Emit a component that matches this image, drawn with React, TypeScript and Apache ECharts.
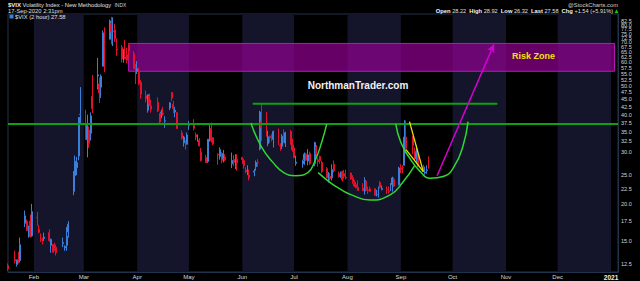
import React, { useEffect, useRef } from 'react';
import * as echarts from 'echarts';

// ---------- DATA ----------
const dates = [
  '2020-01-17', '2020-01-21', '2020-01-22', '2020-01-23', '2020-01-24', '2020-01-27', '2020-01-28', '2020-01-29', '2020-01-30', '2020-01-31',
  '2020-02-03', '2020-02-04', '2020-02-05', '2020-02-06', '2020-02-07', '2020-02-10', '2020-02-11', '2020-02-12', '2020-02-13', '2020-02-14', '2020-02-18', '2020-02-19', '2020-02-20', '2020-02-21', '2020-02-24', '2020-02-25', '2020-02-26', '2020-02-27', '2020-02-28',
  '2020-03-02', '2020-03-03', '2020-03-04', '2020-03-05', '2020-03-06', '2020-03-09', '2020-03-10', '2020-03-11', '2020-03-12', '2020-03-13', '2020-03-16', '2020-03-17', '2020-03-18', '2020-03-19', '2020-03-20', '2020-03-23', '2020-03-24', '2020-03-25', '2020-03-26', '2020-03-27', '2020-03-30', '2020-03-31',
  '2020-04-01', '2020-04-02', '2020-04-03', '2020-04-06', '2020-04-07', '2020-04-08', '2020-04-09', '2020-04-13', '2020-04-14', '2020-04-15', '2020-04-16', '2020-04-17', '2020-04-20', '2020-04-21', '2020-04-22', '2020-04-23', '2020-04-24', '2020-04-27', '2020-04-28', '2020-04-29', '2020-04-30',
  '2020-05-01', '2020-05-04', '2020-05-05', '2020-05-06', '2020-05-07', '2020-05-08', '2020-05-11', '2020-05-12', '2020-05-13', '2020-05-14', '2020-05-15', '2020-05-18', '2020-05-19', '2020-05-20', '2020-05-21', '2020-05-22', '2020-05-26', '2020-05-27', '2020-05-28', '2020-05-29',
  '2020-06-01', '2020-06-02', '2020-06-03', '2020-06-04', '2020-06-05', '2020-06-08', '2020-06-09', '2020-06-10', '2020-06-11', '2020-06-12', '2020-06-15', '2020-06-16', '2020-06-17', '2020-06-18', '2020-06-19', '2020-06-22', '2020-06-23', '2020-06-24', '2020-06-25', '2020-06-26', '2020-06-29', '2020-06-30',
  '2020-07-01', '2020-07-02', '2020-07-06', '2020-07-07', '2020-07-08', '2020-07-09', '2020-07-10', '2020-07-13', '2020-07-14', '2020-07-15', '2020-07-16', '2020-07-17', '2020-07-20', '2020-07-21', '2020-07-22', '2020-07-23', '2020-07-24', '2020-07-27', '2020-07-28', '2020-07-29', '2020-07-30', '2020-07-31',
  '2020-08-03', '2020-08-04', '2020-08-05', '2020-08-06', '2020-08-07', '2020-08-10', '2020-08-11', '2020-08-12', '2020-08-13', '2020-08-14', '2020-08-17', '2020-08-18', '2020-08-19', '2020-08-20', '2020-08-21', '2020-08-24', '2020-08-25', '2020-08-26', '2020-08-27', '2020-08-28', '2020-08-31',
  '2020-09-01', '2020-09-02', '2020-09-03', '2020-09-04', '2020-09-08', '2020-09-09', '2020-09-10', '2020-09-11', '2020-09-14', '2020-09-15', '2020-09-16', '2020-09-17',
];
const opens = [
  12.4, 13.0, 12.5, 13.0, 12.9, 17.2, 17.5, 16.2, 17.5, 15.6,
  18.0, 16.4, 15.2, 15.2, 15.3, 16.0, 14.5, 14.6, 14.6, 14.3, 14.7, 14.2, 14.5, 16.1, 22.1, 24.9, 26.5, 29.0, 40.0,
  40.0, 32.9, 35.5, 34.6, 46.1, 54.0, 50.8, 49.5, 58.2, 68.0, 71.8, 81.3, 76.4, 77.3, 66.6, 67.4, 59.9, 62.6, 63.7, 68.4, 64.2, 57.4,
  56.0, 55.9, 51.4, 46.3, 41.4, 46.2, 42.8, 44.0, 40.4, 40.6, 40.5, 38.0, 42.1, 47.5, 43.4, 40.8, 40.6, 34.7, 32.1, 32.3, 31.8,
  36.8, 37.3, 34.2, 33.4, 32.8, 29.9, 28.7, 27.8, 32.9, 35.9, 33.4, 29.4, 28.9, 29.6, 28.5, 28.8, 27.3, 28.2, 26.8, 28.3,
  28.7, 28.0, 26.0, 25.8, 25.0, 25.6, 26.7, 27.6, 30.6, 37.9, 39.8, 31.9, 33.8, 34.3, 33.1, 35.8, 31.5, 31.3, 34.6, 32.1, 35.1, 32.5,
  30.9, 27.4, 27.3, 28.2, 29.4, 27.9, 29.6, 27.4, 31.1, 28.2, 28.9, 27.6, 26.3, 23.7, 24.8, 24.5, 27.2, 25.3, 25.0, 25.7, 25.3, 24.6,
  25.4, 24.5, 23.5, 23.2, 22.7, 22.6, 22.1, 23.9, 22.3, 22.5, 22.5, 21.5, 21.4, 23.6, 22.4, 22.4, 22.1, 22.9, 23.2, 24.2, 23.2,
  26.5, 26.6, 27.0, 33.6, 33.6, 30.2, 28.4, 29.5, 26.1, 25.4, 25.9, 28.2,
];
const highs = [
  12.6, 13.9, 13.0, 13.8, 15.4, 19.0, 17.7, 16.9, 18.4, 20.0,
  18.8, 17.0, 15.9, 15.4, 16.0, 16.4, 15.3, 14.6, 14.8, 14.6, 15.4, 14.5, 16.7, 17.5, 25.8, 29.1, 28.8, 39.2, 49.5,
  41.5, 40.0, 36.5, 40.7, 54.4, 62.1, 53.4, 54.6, 76.8, 78.8, 83.6, 85.5, 85.1, 80.9, 72.3, 68.6, 66.6, 71.5, 67.2, 69.5, 65.5, 59.3,
  60.6, 57.6, 52.3, 48.2, 46.7, 47.1, 45.0, 45.7, 40.4, 41.6, 42.5, 39.5, 44.1, 47.7, 44.5, 42.5, 40.8, 35.4, 33.9, 32.8, 34.8,
  38.1, 38.6, 34.8, 34.3, 33.3, 30.9, 29.3, 33.1, 37.2, 37.6, 33.6, 29.6, 31.0, 29.9, 30.4, 29.4, 29.8, 29.2, 29.4, 29.4,
  28.8, 28.4, 26.6, 27.0, 26.1, 26.2, 28.0, 28.3, 41.2, 43.8, 40.9, 35.3, 34.0, 34.4, 35.3, 35.9, 32.0, 34.4, 35.7, 35.0, 35.5, 33.2,
  31.7, 29.1, 28.2, 29.8, 29.7, 30.6, 30.0, 32.4, 31.6, 28.6, 29.1, 28.0, 26.6, 25.6, 25.4, 27.2, 28.0, 25.7, 25.7, 25.9, 26.0, 26.1,
  25.5, 25.0, 24.1, 23.7, 24.0, 23.5, 24.6, 23.9, 22.9, 22.9, 22.6, 22.3, 22.9, 23.9, 23.1, 22.9, 22.9, 23.5, 24.7, 24.6, 26.7,
  27.2, 27.0, 38.3, 38.2, 33.9, 31.0, 31.5, 30.7, 27.1, 26.7, 27.0, 28.9,
];
const lows = [
  11.9, 12.6, 12.3, 12.6, 12.7, 16.7, 16.2, 15.4, 15.4, 15.5,
  16.9, 15.9, 14.9, 14.6, 15.0, 14.9, 13.7, 13.7, 13.9, 13.4, 14.3, 13.9, 13.9, 15.4, 21.4, 22.0, 25.0, 28.1, 37.5,
  32.9, 28.7, 30.9, 32.7, 40.5, 48.6, 43.8, 45.5, 58.2, 55.6, 71.8, 69.0, 68.1, 70.3, 63.2, 60.0, 59.9, 61.5, 59.6, 61.8, 56.9, 50.7,
  54.8, 50.3, 45.3, 44.0, 40.6, 42.8, 40.6, 40.8, 37.4, 38.9, 39.6, 36.1, 41.4, 44.4, 40.5, 39.2, 35.8, 32.9, 31.2, 30.5, 31.7,
  35.5, 35.4, 32.8, 32.4, 31.2, 27.8, 27.5, 27.5, 32.4, 32.2, 31.6, 27.1, 28.2, 27.4, 27.6, 27.9, 26.4, 26.8, 26.2, 25.9,
  27.3, 26.3, 25.4, 25.0, 24.0, 24.8, 25.9, 26.7, 30.3, 32.6, 33.7, 31.3, 32.1, 32.5, 31.0, 31.6, 30.2, 30.6, 32.0, 31.1, 31.7, 30.0,
  28.5, 26.9, 26.5, 27.1, 27.9, 27.0, 27.1, 26.8, 29.0, 26.7, 27.3, 25.4, 24.5, 23.6, 23.9, 24.0, 25.5, 24.5, 24.5, 23.8, 24.3, 24.2,
  24.1, 23.4, 22.8, 22.6, 22.1, 22.1, 21.5, 22.2, 21.6, 21.9, 21.3, 21.2, 21.0, 22.5, 22.2, 21.6, 21.7, 22.1, 22.0, 22.8, 23.1,
  25.4, 25.4, 26.9, 29.6, 29.4, 28.0, 27.3, 26.6, 25.6, 25.1, 25.3, 26.3,
];
const closes = [
  12.10, 12.85, 12.91, 12.98, 14.56, 18.23, 16.28, 16.39, 15.49, 18.84,
  17.97, 16.05, 15.15, 14.96, 15.47, 15.04, 15.18, 13.74, 14.15, 13.68, 14.83, 14.38, 15.56, 17.08, 25.03, 27.85, 27.56, 39.16, 40.11,
  33.42, 36.82, 31.99, 39.62, 41.94, 54.46, 47.30, 53.90, 75.47, 57.83, 82.69, 75.91, 76.45, 72.00, 66.04, 61.59, 63.95, 61.67, 61.00, 65.54, 57.08, 53.54,
  57.06, 50.91, 46.80, 45.24, 46.70, 43.35, 41.67, 41.17, 37.76, 40.84, 40.11, 38.15, 43.83, 45.41, 41.98, 41.38, 35.93, 33.29, 33.57, 31.23, 34.15,
  37.19, 35.97, 33.61, 34.12, 31.44, 27.98, 27.57, 33.04, 35.28, 32.61, 31.89, 29.30, 30.53, 27.99, 29.53, 28.16, 28.01, 27.62, 28.59, 27.51,
  28.23, 26.84, 25.66, 25.81, 24.52, 25.81, 27.57, 27.57, 40.79, 36.09, 34.40, 33.67, 33.47, 32.94, 35.12, 31.77, 31.37, 33.84, 32.22, 34.73, 31.78, 30.43,
  28.62, 27.68, 27.94, 29.43, 28.08, 29.26, 27.29, 32.19, 29.52, 27.76, 28.00, 25.68, 24.46, 24.84, 24.32, 26.08, 25.84, 24.74, 25.44, 24.10, 24.76, 24.46,
  24.28, 23.76, 23.00, 22.65, 22.21, 22.13, 24.03, 22.28, 22.13, 22.05, 21.35, 21.51, 22.54, 22.72, 22.54, 22.37, 22.03, 23.27, 24.47, 22.96, 26.41,
  26.12, 26.57, 33.60, 30.75, 31.46, 28.81, 29.71, 26.87, 25.85, 25.59, 26.04, 27.58,
];

// 27.5 is hidden behind the last-value box in the reference, so it is not listed
const yTickValues = [12.5, 15, 17.5, 20, 22.5, 25, 30, 32.5, 35, 37.5, 40, 42.5, 45, 47.5, 50, 52.5, 55, 57.5, 60, 62.5, 65, 67.5, 70, 72.5, 75, 77.5, 80, 82.5, 85];
const monthTicks = ['2020-02-01', '2020-03-01', '2020-04-01', '2020-05-01', '2020-06-01', '2020-07-01', '2020-08-01', '2020-09-01', '2020-10-01', '2020-11-01', '2020-12-01', '2021-01-01'];
const monthLabels = ['Feb', 'Mar', 'Apr', 'May', 'Jun', 'Jul', 'Aug', 'Sep', 'Oct', 'Nov', 'Dec', '2021'];
const shadedMonths = [
  ['2020-02-01', '2020-03-01'], ['2020-04-01', '2020-05-01'], ['2020-06-01', '2020-07-01'],
  ['2020-08-01', '2020-09-01'], ['2020-10-01', '2020-11-01'], ['2020-12-01', '2021-01-01'],
];
const xRange = ['2020-01-17', '2021-01-05'];
const yRange = [11.79, 87.33];

const riskZoneDates = ['2020-03-27', '2021-01-03'];
const riskZoneValues = [56.0, 69.5];
const riskLabelPoint: [string, number] = ['2020-11-17', 62.9];
const supportLevel = 37.5;
const resistanceLine: [string, number][] = [['2020-06-07', 43.5], ['2020-10-27', 43.5]];
const cupA: [string, number][] = [
  ['2020-06-06', 37.5], ['2020-06-12', 31.2], ['2020-06-19', 27.5], ['2020-06-25', 25.5], ['2020-07-02', 24.9],
  ['2020-07-09', 25.5], ['2020-07-13', 27.8], ['2020-07-17', 32.2], ['2020-07-20', 37.2],
];
const cupB: [string, number][] = [
  ['2020-07-15', 25.5], ['2020-07-22', 23.6], ['2020-07-28', 22.4], ['2020-08-03', 21.5], ['2020-08-14', 20.6],
  ['2020-08-26', 21.5], ['2020-09-02', 23.6], ['2020-09-09', 26.9],
];
const cupC: [string, number][] = [
  ['2020-08-29', 37.2], ['2020-09-01', 32.2], ['2020-09-06', 28.6], ['2020-09-12', 25.8], ['2020-09-18', 24.4],
  ['2020-09-26', 24.8], ['2020-10-02', 26.8], ['2020-10-07', 31.3], ['2020-10-10', 37.9],
];
const yellowA: [string, number][] = [['2020-09-06', 37.9], ['2020-09-14', 25.7]];
const yellowB: [string, number][] = [['2020-09-04', 30.5], ['2020-09-14', 25.7]];
const arrowPath: [string, number][] = [['2020-09-22', 24.9], ['2020-10-25', 69.0]];
const lastValue = 27.58;

// ---------- HELPERS ----------
const FONT = '"Liberation Sans", Arial, sans-serif';
const ts = (s: string) => {
  const [y, m, d] = s.split('-').map(Number);
  return new Date(y, m - 1, d).getTime();
};
const L = Math.log;
const pts = (arr: [string, number][]) => arr.map(([d, v]) => [ts(d), L(v)]);

function buildOption() {
  const candles = dates.map((d, i) => [ts(d), L(opens[i]), L(closes[i]), L(lows[i]), L(highs[i])]);
  const monthStamps = monthTicks.map(ts);
  const green = '#0ea00e';
  const cupColor = '#2fd82f';
  const lineSeries = (name: string, data: number[][], color: string, width: number, smooth: boolean, z: number) => ({
    name, type: 'line', data, smooth, showSymbol: false, symbol: 'none', silent: true, z,
    lineStyle: { color, width }, itemStyle: { color },
  });
  const Z = 100;
  return {
    animation: false,
    backgroundColor: '#000',
    textStyle: { fontFamily: FONT },
    grid: { left: 8, right: 22, top: 14, bottom: 8, show: true, borderColor: '#22324a', borderWidth: 1, backgroundColor: '#000' },
    xAxis: {
      type: 'value',
      min: ts(xRange[0]), max: ts(xRange[1]),
      axisLine: { show: true, lineStyle: { color: '#22324a' } },
      axisTick: { show: false },
      splitLine: { show: false },
      axisLabel: {
        customValues: monthStamps,
        hideOverlap: false,
        color: '#d8d8d8', fontSize: 6, margin: 2, fontFamily: FONT,
        formatter: (v: number) => {
          let idx = 0;
          let best = Infinity;
          monthStamps.forEach((m, i) => { const dd = Math.abs(m - v); if (dd < best) { best = dd; idx = i; } });
          const lbl = monthLabels[idx];
          return idx === monthLabels.length - 1 ? `{b|${lbl}}` : lbl;
        },
        rich: { b: { fontWeight: 'bold', fontSize: 6.5, color: '#f0f0f0', fontFamily: FONT } },
      },
    },
    yAxis: {
      type: 'value', position: 'right',
      min: L(yRange[0]), max: L(yRange[1]),
      axisLine: { show: true, lineStyle: { color: '#22324a' } },
      axisTick: { show: false },
      splitLine: { show: false },
      axisLabel: {
        customValues: yTickValues.map(L),
        hideOverlap: false,
        color: '#d8d8d8', fontSize: 5.5, margin: 3, fontFamily: FONT,
        formatter: (v: number) => Math.exp(v).toFixed(1),
      },
    },
    series: [
      {
        name: 'bands', type: 'line', data: [], z: 1, silent: true,
        markArea: {
          silent: true,
          itemStyle: { color: '#14142b' },
          data: shadedMonths.map(([a, b]) => [{ xAxis: ts(a) }, { xAxis: ts(b) }]),
        },
      },
      {
        name: '$VIX', type: 'candlestick', z: 2, data: candles,
        encode: { x: 0, y: [1, 2, 3, 4] },
        barWidth: 1.4,
        itemStyle: { color: '#3a80d8', color0: '#e3122c', borderColor: '#3a80d8', borderColor0: '#e3122c', borderWidth: 1 },
        markLine: {
          silent: true, symbol: 'none',
          lineStyle: { opacity: 0, width: 0 },
          label: {
            show: true, position: 'end', formatter: lastValue.toFixed(2), distance: -4,
            color: '#ffffff', fontSize: 6, fontFamily: FONT,
            backgroundColor: '#0d2344', borderColor: '#6a96d0', borderWidth: 1, padding: [1, 2, 0, 2],
          },
          data: [{ yAxis: L(lastValue) }],
        },
      },
      {
        name: 'riskZone', type: 'line', data: [], z: 3, silent: true,
        markArea: {
          silent: true,
          itemStyle: { color: 'rgba(150,0,150,0.68)', borderColor: '#b41cb4', borderWidth: 1 },
          data: [[
            { coord: [ts(riskZoneDates[0]), L(riskZoneValues[1])] },
            { coord: [ts(riskZoneDates[1]), L(riskZoneValues[0])] },
          ]],
        },
        markPoint: {
          silent: true, symbol: 'rect', symbolSize: 0,
          label: { show: true, position: 'inside', formatter: 'Risk Zone', color: '#f2e205', fontWeight: 'bold', fontSize: 9, fontFamily: FONT },
          data: [{ coord: [ts(riskLabelPoint[0]), L(riskLabelPoint[1])] }],
        },
        markLine: {
          silent: true, symbol: 'none',
          lineStyle: { color: green, width: 2, type: 'solid' },
          label: { show: false },
          data: [{ yAxis: L(supportLevel) }],
        },
      },
      lineSeries('resistance', pts(resistanceLine), green, 2, false, 4),
      lineSeries('cupA', pts(cupA), cupColor, 1.5, true, 5),
      lineSeries('cupB', pts(cupB), cupColor, 1.5, true, 5),
      lineSeries('cupC', pts(cupC), cupColor, 1.5, true, 5),
      lineSeries('yellowA', pts(yellowA), '#e8e400', 1.3, false, 6),
      lineSeries('yellowB', pts(yellowB), '#e8e400', 1.3, false, 6),
      {
        name: 'arrow', type: 'line', data: [], z: 7, silent: true,
        markLine: {
          silent: true, symbol: ['none', 'arrow'], symbolSize: [6, 8],
          lineStyle: { color: '#d400d4', width: 1.5, type: 'solid' },
          label: { show: false },
          data: [[{ coord: pts([arrowPath[0]])[0] }, { coord: pts([arrowPath[1]])[0] }]],
        },
      },
    ],
    graphic: [
      {
        type: 'text', x: 8, y: 5, silent: true, z: Z,
        style: {
          text: '{b|$VIX} Volatility Index - New Methodology  {s|INDX}',
          fill: '#e0e0e0', font: `5.8px ${FONT}`, verticalAlign: 'middle',
          rich: {
            b: { fontWeight: 'bold', fontSize: 6, fill: '#f0f0f0', fontFamily: FONT },
            s: { fontSize: 5, fill: '#d0d0d0', fontFamily: FONT },
          },
        },
      },
      {
        type: 'text', x: 8, y: 11, silent: true, z: Z,
        style: { text: '17-Sep-2020 2:31pm', fill: '#e0e0e0', font: `5.8px ${FONT}`, verticalAlign: 'middle' },
      },
      { type: 'rect', z: Z, shape: { x: 9.5, y: 14.5, width: 4, height: 4 }, style: { fill: '#3a80d8' }, silent: true },
      {
        type: 'text', x: 15, y: 16.8, silent: true, z: Z,
        style: { text: '$VIX (2 hour) 27.58', fill: '#e0e0e0', font: `5.8px ${FONT}`, verticalAlign: 'middle' },
      },
      {
        type: 'text', x: 618, y: 5, silent: true, z: Z,
        style: { text: '@StockCharts.com', fill: '#d0d0d0', font: `5.8px ${FONT}`, align: 'right', verticalAlign: 'middle' },
      },
      {
        type: 'text', x: 613, y: 11, silent: true, z: Z,
        style: {
          text: '{b|Open} 28.22  {b|High} 28.92  {b|Low} 26.32  {b|Last} 27.58  {b|Chg} +1.54 (+5.91%)',
          fill: '#e0e0e0', font: `5.6px ${FONT}`, align: 'right', verticalAlign: 'middle',
          rich: { b: { fontWeight: 'bold', fontSize: 5.8, fill: '#f4f4f4', fontFamily: FONT } },
        },
      },
      { type: 'polygon', z: Z, shape: { points: [[614.5, 13], [618.5, 13], [616.5, 9.5]] }, style: { fill: '#19c419' }, silent: true },
      {
        type: 'text', x: 358, y: 85, silent: true, z: Z,
        style: { text: 'NorthmanTrader.com', fill: '#f2f2f2', font: `bold 10px ${FONT}`, align: 'center', verticalAlign: 'middle' },
      },
    ],
  };
}

export default function App() {
  const ref = useRef<HTMLDivElement>(null);
  useEffect(() => {
    if (!ref.current) return;
    const chart = echarts.init(ref.current, null, { renderer: 'svg' });
    chart.setOption(buildOption() as any);
    return () => chart.dispose();
  }, []);
  return (
    <div
      ref={ref}
      style={{ position: 'fixed', left: 0, top: 0, width: 640, height: 281, background: '#000' }}
    />
  );
}
